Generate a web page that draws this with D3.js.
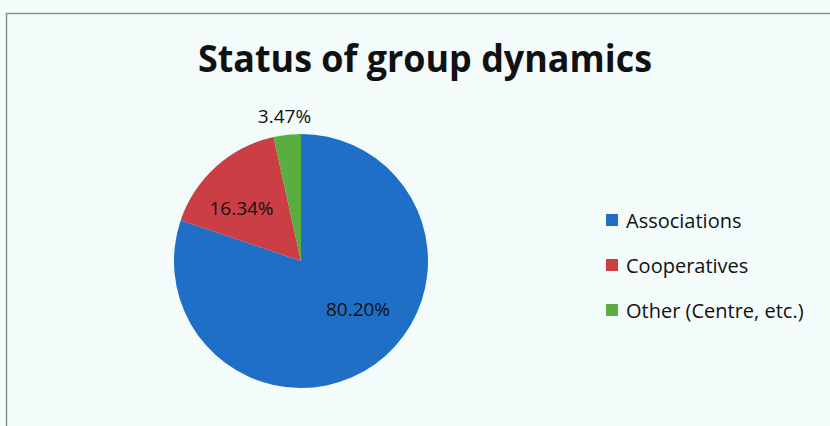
<!DOCTYPE html>
<html><head><meta charset="utf-8">
<script src="https://cdn.jsdelivr.net/npm/d3@7"></script>
<style>
html,body{margin:0;padding:0;background:#f3fbfb;}
svg{display:block;}
</style></head>
<body>
<script>
const categories = ["Associations", "Cooperatives", "Other (Centre, etc.)"];
const values = [80.20, 16.34, 3.47];
const labels = ["80.20%", "16.34%", "3.47%"];
const colors = ["#1f6fc6", "#cb3e46", "#5aae3f"];
const title = "Status of group dynamics";

const W = 830, H = 426;
const FONT = "'Open Sans', Lato, sans-serif";
const svg = d3.select("body").append("svg").attr("width", W).attr("height", H);
svg.append("rect").attr("width", W).attr("height", H).attr("fill", "#f3fbfb");
svg.append("path").attr("d", `M6.5,${H} V13.5 H${W}`).attr("fill", "none").attr("stroke", "#8a8f8f").attr("stroke-width", 1.5);

svg.append("text").attr("x", 425).attr("y", 72).attr("text-anchor", "middle")
  .attr("font-family", FONT).attr("font-weight", "bold")
  .attr("font-size", 37).attr("fill", "#111")
  .attr("textLength", 454).attr("lengthAdjust", "spacingAndGlyphs").text(title);

const cx = 301, cy = 261, r = 127;
const pie = d3.pie().sort(null).value(d => d)(values);
const arc = d3.arc().innerRadius(0).outerRadius(r);
const g = svg.append("g").attr("transform", `translate(${cx},${cy})`);
g.selectAll("path").data(pie).join("path").attr("d", arc).attr("fill", (d, i) => colors[i]);

const labelPos = [[57, 48], [-59.5, -53.5], [-16.5, -145.5]];
g.selectAll("text").data(pie).join("text")
  .attr("x", (d, i) => labelPos[i][0]).attr("y", (d, i) => labelPos[i][1])
  .attr("text-anchor", "middle").attr("dominant-baseline", "central")
  .attr("font-family", FONT).attr("font-size", 19)
  .attr("fill", "#111").text((d, i) => labels[i]);

const leg = svg.append("g").attr("transform", "translate(606,0)");
const ly = d3.scalePoint().domain(categories).range([220, 310]);
categories.forEach((c, i) => {
  leg.append("rect").attr("x", 0).attr("y", ly(c) - 6).attr("width", 12).attr("height", 12).attr("fill", colors[i]);
  leg.append("text").attr("x", 20).attr("y", ly(c)).attr("dominant-baseline", "central")
    .attr("font-family", FONT).attr("font-size", 20).attr("fill", "#111").text(c);
});
</script>
</body></html>
